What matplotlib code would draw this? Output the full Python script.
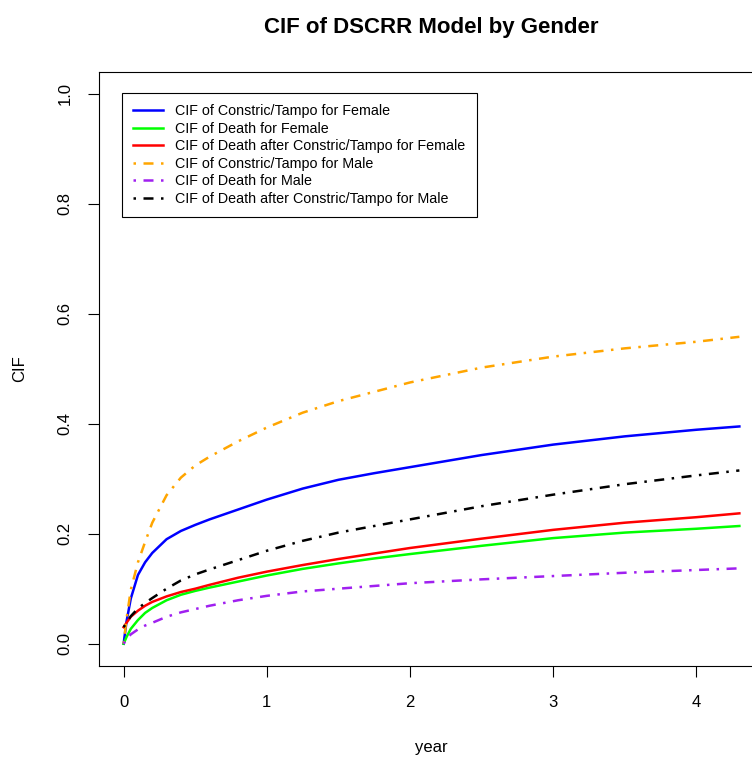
import matplotlib
matplotlib.use("Agg")
import matplotlib.pyplot as plt

plt.rcParams['font.family'] = ['Liberation Sans', 'DejaVu Sans']

# time points (years)
year = [0, 0.02, 0.05, 0.1, 0.15, 0.2, 0.3, 0.4, 0.5, 0.6, 0.8, 1.0,
        1.25, 1.5, 1.75, 2, 2.5, 3, 3.5, 4, 4.3]

# female curves
f_constric = [0.0, 0.040, 0.082, 0.125, 0.148, 0.165, 0.190, 0.205, 0.216, 0.226, 0.244, 0.262,
              0.282, 0.298, 0.310, 0.321, 0.343, 0.362, 0.377, 0.389, 0.395]
f_death = [0.0, 0.012, 0.027, 0.043, 0.056, 0.065, 0.079, 0.089, 0.096, 0.102, 0.113, 0.124,
           0.136, 0.146, 0.155, 0.163, 0.178, 0.192, 0.202, 0.209, 0.214]
f_death_after = [0.030, 0.038, 0.049, 0.060, 0.069, 0.076, 0.086, 0.094, 0.100, 0.107, 0.120, 0.131,
                 0.143, 0.154, 0.164, 0.174, 0.191, 0.207, 0.220, 0.230, 0.237]

# male curves
m_constric = [0.0, 0.045, 0.098, 0.148, 0.185, 0.220, 0.270, 0.302, 0.324, 0.340, 0.368, 0.393,
              0.420, 0.441, 0.458, 0.475, 0.502, 0.522, 0.537, 0.549, 0.558]
m_death = [0.0, 0.008, 0.017, 0.026, 0.033, 0.038, 0.049, 0.057, 0.063, 0.069, 0.079, 0.087,
           0.095, 0.100, 0.105, 0.110, 0.117, 0.123, 0.129, 0.134, 0.137]
m_death_after = [0.030, 0.038, 0.050, 0.064, 0.074, 0.083, 0.100, 0.115, 0.126, 0.135, 0.152, 0.169,
                 0.187, 0.202, 0.214, 0.226, 0.250, 0.271, 0.290, 0.306, 0.315]

labels = [
    "CIF of Constric/Tampo for Female",
    "CIF of Death for Female",
    "CIF of Death after Constric/Tampo for Female",
    "CIF of Constric/Tampo for Male",
    "CIF of Death for Male",
    "CIF of Death after Constric/Tampo for Male",
]

fig = plt.figure(figsize=(7.52, 7.58), dpi=100)
# axes box runs past the right edge of the picture, as in the original
ax = fig.add_axes([99 / 752, (758 - 665.7) / 758, 665 / 752, 594 / 758])

lw = 1.8
dd = (1, 3, 4, 3)
ax.plot(year, f_constric, color="blue", lw=lw, label=labels[0])
ax.plot(year, f_death, color="#00FF00", lw=lw, label=labels[1])
ax.plot(year, f_death_after, color="red", lw=lw, label=labels[2])
ax.plot(year, m_constric, color="orange", lw=lw, dashes=dd, label=labels[3])
ax.plot(year, m_death, color="#A020F0", lw=lw, dashes=dd, label=labels[4])
ax.plot(year, m_death_after, color="black", lw=lw, dashes=dd, label=labels[5])

ax.set_xlim(-0.172, 4.472)
ax.set_ylim(-0.04, 1.04)
ax.set_xticks([0, 1, 2, 3, 4])
ax.set_yticks([0.0, 0.2, 0.4, 0.6, 0.8, 1.0])
ax.set_yticklabels(["0.0", "0.2", "0.4", "0.6", "0.8", "1.0"], rotation=90, va="center")
ax.tick_params(axis="both", direction="out", length=8, width=0.8, labelsize=12)
ax.tick_params(axis="x", pad=13)
ax.tick_params(axis="y", pad=11)
for s in ax.spines.values():
    s.set_linewidth(0.8)

ax.set_xlabel("year", fontsize=12, labelpad=22)
ax.set_ylabel("CIF", fontsize=12, labelpad=22)
fig.text(431.5 / 752, 1 - 27 / 758, "CIF of DSCRR Model by Gender",
         ha="center", va="center", fontsize=16, fontweight="bold")

leg = ax.legend(loc="upper left", bbox_to_anchor=(23 / 665, (665.7 - 93) / 594),
                borderaxespad=0, fontsize=10.3, fancybox=False, edgecolor="black",
                framealpha=1, handlelength=2.1, handletextpad=0.8,
                labelspacing=0.24, borderpad=0.8)
leg.get_frame().set_linewidth(0.8)

plt.savefig("out.png", dpi=100)
